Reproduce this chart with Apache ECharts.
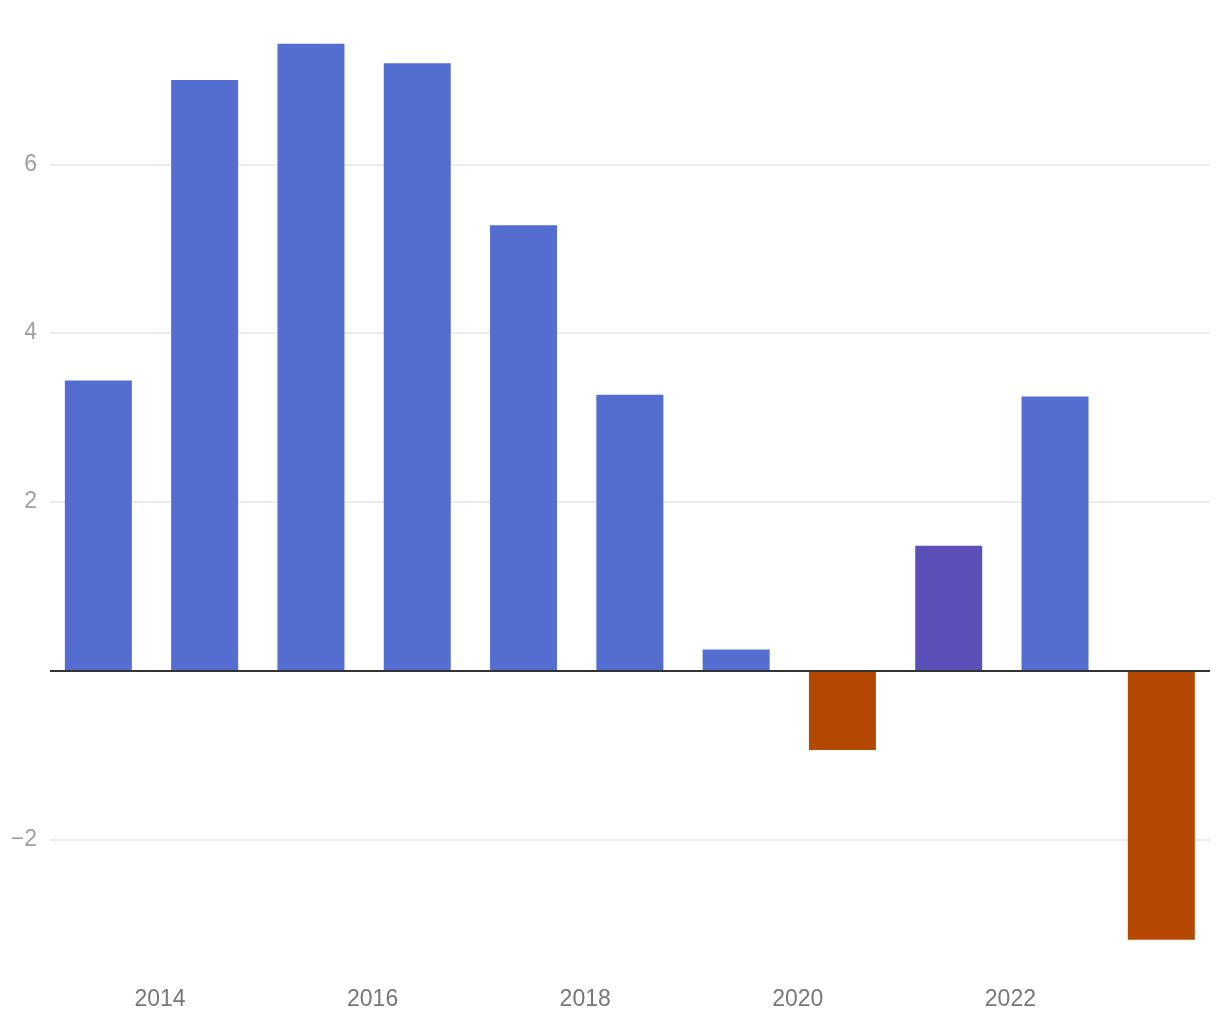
<!DOCTYPE html>
<html>
<head>
<meta charset="utf-8">
<script src="https://cdn.jsdelivr.net/npm/echarts@6/dist/echarts.min.js"></script>
<style>
html,body{margin:0;padding:0;background:#fff;}
#chart{width:1220px;height:1020px;}
</style>
</head>
<body>
<div id="chart"></div>
<script>
// Data
const years = [2013, 2014, 2015, 2016, 2017, 2018, 2019, 2020, 2021, 2022, 2023];
const values = [3.44, 7.0, 7.43, 7.2, 5.28, 3.27, 0.25, -0.94, 1.48, 3.25, -3.19];
const xTickLabels = [2014, 2016, 2018, 2020, 2022];
const yTickLabels = [-2, 2, 4, 6];
const yGridValues = [-2, 2, 4, 6];

const BLUE = '#536dd0', PURPLE = '#5a50b8', ORANGE = '#b54800';
const barOffset = 0.42; // bars sit inside each year

const chart = echarts.init(document.getElementById('chart'), null, {renderer: 'canvas'});
const data = years.map((y, i) => ({
  value: [y + barOffset, values[i]],
  itemStyle: {color: values[i] < 0 ? ORANGE : (y === 2021 ? PURPLE : BLUE)}
}));

chart.setOption({
  animation: false,
  backgroundColor: '#fff',
  grid: {left: 50, right: 10, top: 12.5, bottom: 54, containLabel: false},
  xAxis: {
    type: 'value',
    min: 2012.965,
    max: 2023.878,
    axisLine: {show: false},
    axisTick: {show: false, customValues: xTickLabels},
    splitLine: {show: false},
    axisLabel: {
      customValues: xTickLabels,
      color: '#777',
      fontSize: 23,
      fontFamily: 'Liberation Sans, Arial, sans-serif',
      margin: 22,
      formatter: v => String(v)
    }
  },
  yAxis: {
    type: 'value',
    min: -3.5,
    max: 7.8,
    axisLine: {show: false},
    axisTick: {show: false, customValues: yGridValues},
    splitLine: {show: true, lineStyle: {color: '#e6e6e6', width: 1.5}},
    axisLabel: {
      customValues: yTickLabels,
      color: '#a0a0a0',
      fontSize: 23,
      fontFamily: 'Liberation Sans, Arial, sans-serif',
      margin: 13,
      formatter: v => String(v).replace('-', '\u2212')
    }
  },
  series: [{
    type: 'bar',
    barWidth: 67,
    data: data,
    markLine: {
      silent: true,
      symbol: 'none',
      label: {show: false},
      lineStyle: {color: '#333', width: 2, type: 'solid'},
      data: [{yAxis: 0}]
    }
  }]
});
</script>
</body>
</html>
